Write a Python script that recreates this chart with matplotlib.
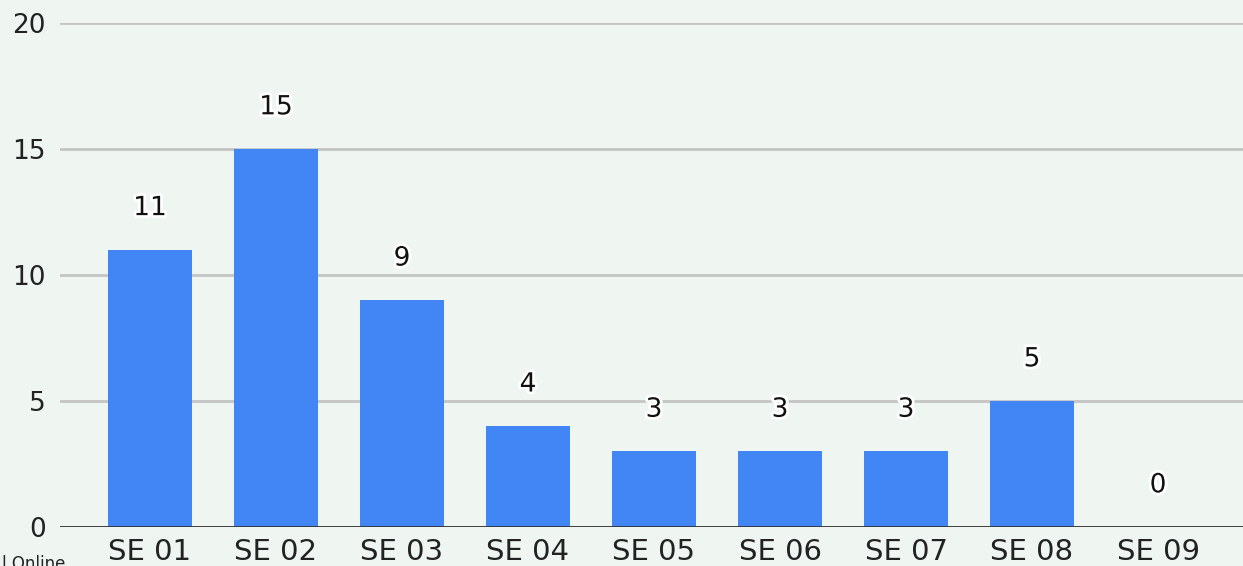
import matplotlib.pyplot as plt
import matplotlib.patheffects as pe

weeks = ["SE 01", "SE 02", "SE 03", "SE 04", "SE 05", "SE 06", "SE 07", "SE 08", "SE 09"]
counts = [11, 15, 9, 4, 3, 3, 3, 5, 0]
yticks = [0, 5, 10, 15, 20]

bg = "#eff6f2"
fig = plt.figure(figsize=(12.43, 5.66), dpi=100, facecolor=bg)
# axes spans from x=60px to a bit past the right edge
ax = fig.add_axes([60 / 1243, 39 / 566, 1188 / 1243, 504 / 566])
ax.set_facecolor(bg)

x = range(len(weeks))
ax.bar(x, counts, width=0.66, color="#4285f4", zorder=3)

for xi, v in zip(x, counts):
    ax.annotate(str(v), (xi, v), xytext=(0, 30), textcoords="offset points",
                ha="center", va="center", fontsize=19, color="#111111",
                path_effects=[pe.withStroke(linewidth=4, foreground="white")], zorder=5)

ax.set_xlim(-0.714, 8.714)
ax.set_ylim(0, 20)
ax.set_yticks(yticks)
ax.set_xticks(list(x))
ax.set_xticklabels(weeks)
ax.tick_params(axis="y", length=0, pad=10, labelsize=19, labelcolor="#222222")
ax.tick_params(axis="x", length=0, pad=8, labelsize=21, labelcolor="#222222")

ax.grid(axis="y", color="#c4c4c4", linewidth=2, zorder=1)
for s in ax.spines.values():
    s.set_visible(False)
ax.axhline(0, color="#333333", linewidth=2, zorder=4)

fig.text(0.002, -0.012, "l Online", fontsize=12, color="#222222", ha="left", va="bottom")

fig.savefig("out.png", dpi=100, facecolor=bg)
